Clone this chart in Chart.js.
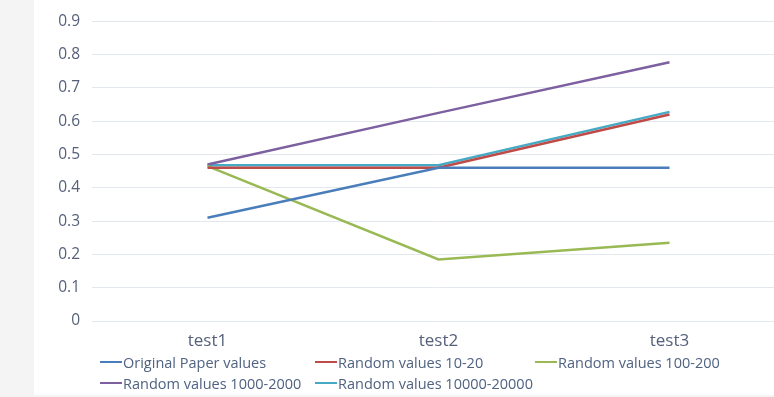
<!DOCTYPE html>
<html>
<head>
<meta charset="utf-8">
<script src="https://cdn.jsdelivr.net/npm/chart.js@4"></script>
<style>
  body { margin: 0; background: #f4f4f4; }
  #wrap { position: relative; width: 774px; height: 397px; overflow: hidden; }
  #panel { position: absolute; left: 34px; top: 0; width: 740px; height: 395px; background: #fff; }
  #box { position: absolute; left: 0; top: 0; width: 790px; height: 397px; }
  #legend { position: absolute; left: 100px; top: 352px; font: 14.5px "Open Sans", sans-serif; color: #4f6280;
            display: grid; grid-template-columns: 215px 220px 200px; row-gap: 1px; }
  #legend div { display: flex; align-items: center; height: 20px; white-space: nowrap; }
  #legend span { display: inline-block; width: 22px; height: 2px; margin-right: 1px; }
</style>
</head>
<body>
<div id="wrap">
  <div id="panel"></div>
  <div id="box"><canvas id="one"></canvas></div>
  <div id="legend"></div>
</div>
<script>
// categories and series
const tests = ['test1', 'test2', 'test3']
const originalPaper = [0.31, 0.46, 0.46]
const random10 = [0.46, 0.46, 0.62]
const random100 = [0.465, 0.185, 0.235]
const random1000 = [0.47, 0.625, 0.777]
const random10000 = [0.468, 0.468, 0.628]
const yTicks = [0, 0.1, 0.2, 0.3, 0.4, 0.5, 0.6, 0.7, 0.8, 0.9]

const names = ['Original Paper values', 'Random values 10-20', 'Random values 100-200',
               'Random values 1000-2000', 'Random values 10000-20000']
const colors = ['#4a7ebb', '#be4b48', '#98b954', '#7d60a0', '#46aac5']
const series = [originalPaper, random10, random100, random1000, random10000]

const one = document.getElementById('one')

new Chart(one, {
  type: 'line',
  data: {
    labels: tests,
    datasets: series.map(function (s, i) {
      return {
        label: names[i],
        data: s,
        borderColor: colors[i],
        backgroundColor: colors[i],
        borderWidth: 2.5,
        pointRadius: 0,
        tension: 0
      }
    })
  },
  options: {
    responsive: true,
    maintainAspectRatio: false,
    animation: false,
    layout: { padding: { top: 19, right: 5, bottom: 46, left: 0 } },
    plugins: { legend: { display: false }, tooltip: { enabled: false } },
    scales: {
      x: {
        offset: true,
        grid: { display: false },
        border: { display: false },
        ticks: { color: '#56607a', font: { family: 'Open Sans', size: 17 }, padding: 2 },
        afterFit: function (s) { s.height = 30 }
      },
      y: {
        min: 0, max: 0.9,
        afterBuildTicks: function (s) { s.ticks = yTicks.map(function (v) { return { value: v } }) },
        grid: { color: '#e3e7ee', drawTicks: false },
        border: { display: false },
        ticks: {
          color: '#56607a', font: { family: 'Open Sans', size: 15.5 }, padding: 12,
          callback: function (v) { return String(v) }
        },
        afterFit: function (s) { s.width = 92 }
      }
    }
  }
})

// legend in columns like the original
const legend = document.getElementById('legend')
names.forEach(function (n, i) {
  const d = document.createElement('div')
  d.innerHTML = '<span style="background:' + colors[i] + '"></span>' + n
  legend.appendChild(d)
})
</script>
</body>
</html>
